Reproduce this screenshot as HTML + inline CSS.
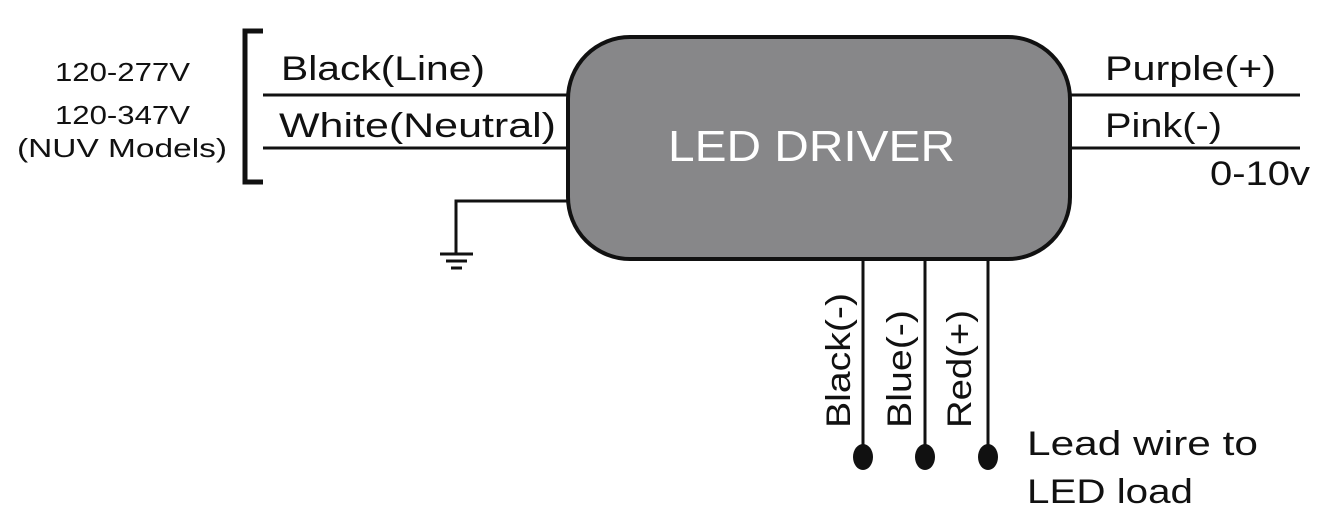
<!DOCTYPE html>
<html><head><style>body{margin:0;background:#fff}svg{display:block}text{font-family:"Liberation Sans",sans-serif;fill:#111}</style></head>
<body>
<svg width="1323" height="527" viewBox="0 0 1323 527">
<rect x="568" y="37" width="502" height="222" rx="62" ry="62" fill="#878789" stroke="#111" stroke-width="4"/>
<g stroke="#111" stroke-width="3" fill="none">
<line x1="263" y1="95" x2="568" y2="95"/>
<line x1="263" y1="148" x2="568" y2="148"/>
<line x1="1070" y1="95" x2="1300" y2="95"/>
<line x1="1070" y1="148" x2="1300" y2="148"/>
<polyline points="568,201 456,201 456,254"/>
<line x1="440" y1="254" x2="473" y2="254"/>
<line x1="446" y1="261" x2="467" y2="261"/>
<line x1="451" y1="268" x2="462" y2="268"/>
<line x1="863" y1="259" x2="863" y2="455"/>
<line x1="925" y1="259" x2="925" y2="455"/>
<line x1="988" y1="259" x2="988" y2="455"/>
</g>
<polyline points="263,31 245,31 245,182 263,182" stroke="#111" stroke-width="5" fill="none"/>
<ellipse cx="863" cy="457" rx="10" ry="13" fill="#111"/>
<ellipse cx="925" cy="457" rx="10" ry="13" fill="#111"/>
<ellipse cx="988" cy="457" rx="10" ry="13" fill="#111"/>
<g font-size="26" lengthAdjust="spacingAndGlyphs">
<text x="55" y="81" textLength="135" lengthAdjust="spacingAndGlyphs">120-277V</text>
<text x="55" y="124" textLength="135" lengthAdjust="spacingAndGlyphs">120-347V</text>
<text x="17" y="157" textLength="210" lengthAdjust="spacingAndGlyphs">(NUV Models)</text>
</g>
<g font-size="34">
<text x="281" y="80" textLength="204" lengthAdjust="spacingAndGlyphs">Black(Line)</text>
<text x="279" y="137" textLength="277" lengthAdjust="spacingAndGlyphs">White(Neutral)</text>
<text x="1105" y="80" textLength="171" lengthAdjust="spacingAndGlyphs">Purple(+)</text>
<text x="1105" y="137" textLength="117" lengthAdjust="spacingAndGlyphs">Pink(-)</text>
<text x="1210" y="185" textLength="100" lengthAdjust="spacingAndGlyphs">0-10v</text>
<text x="1027" y="455" textLength="231" lengthAdjust="spacingAndGlyphs">Lead wire to</text>
<text x="1027" y="503" textLength="166" lengthAdjust="spacingAndGlyphs">LED load</text>
<text transform="translate(850,428) rotate(-90)" textLength="135" lengthAdjust="spacingAndGlyphs">Black(-)</text>
<text transform="translate(911,428) rotate(-90)" textLength="118" lengthAdjust="spacingAndGlyphs">Blue(-)</text>
<text transform="translate(971,428) rotate(-90)" textLength="118" lengthAdjust="spacingAndGlyphs">Red(+)</text>
</g>
<text x="668" y="161" font-size="44" textLength="287" lengthAdjust="spacingAndGlyphs" style="fill:#fff">LED DRIVER</text>
</svg>
</body></html>
